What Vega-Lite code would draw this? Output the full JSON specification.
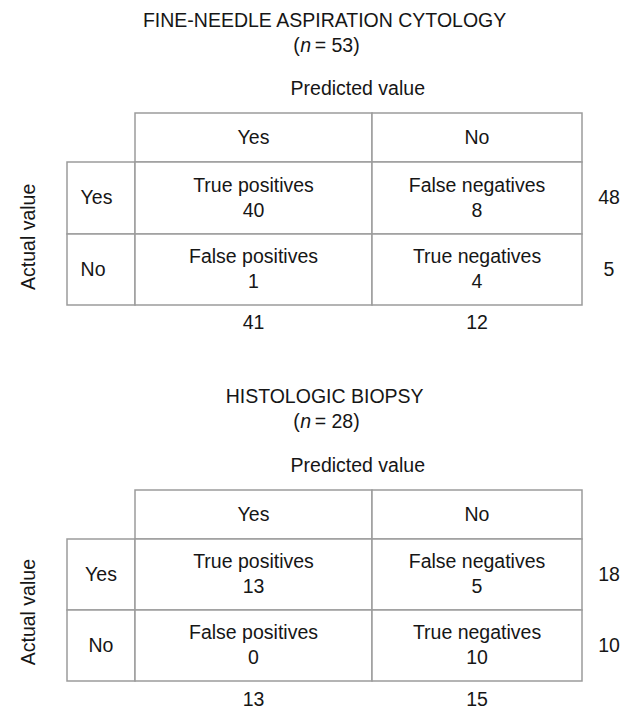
{
  "$schema": "https://vega.github.io/schema/vega-lite/v6.json",
  "width": 632,
  "height": 711,
  "autosize": {"type": "none"},
  "padding": 0,
  "background": "white",
  "config": {
    "view": {"stroke": null},
    "text": {"font": "Liberation Sans", "fontSize": 19.5, "color": "#161616", "baseline": "middle", "align": "center"}
  },
  "datasets": {
    "grid": [
      {"table": "FNAC", "c0": 1, "c1": 2, "r0": 4, "r1": 5},
      {"table": "FNAC", "c0": 2, "c1": 3, "r0": 4, "r1": 5},
      {"table": "FNAC", "c0": 0, "c1": 1, "r0": 5, "r1": 6},
      {"table": "FNAC", "c0": 0, "c1": 1, "r0": 6, "r1": 7},
      {"table": "FNAC", "c0": 1, "c1": 2, "r0": 5, "r1": 6},
      {"table": "FNAC", "c0": 2, "c1": 3, "r0": 5, "r1": 6},
      {"table": "FNAC", "c0": 1, "c1": 2, "r0": 6, "r1": 7},
      {"table": "FNAC", "c0": 2, "c1": 3, "r0": 6, "r1": 7},
      {"table": "HB", "c0": 1, "c1": 2, "r0": 13, "r1": 14},
      {"table": "HB", "c0": 2, "c1": 3, "r0": 13, "r1": 14},
      {"table": "HB", "c0": 0, "c1": 1, "r0": 14, "r1": 15},
      {"table": "HB", "c0": 0, "c1": 1, "r0": 15, "r1": 16},
      {"table": "HB", "c0": 1, "c1": 2, "r0": 14, "r1": 15},
      {"table": "HB", "c0": 2, "c1": 3, "r0": 14, "r1": 15},
      {"table": "HB", "c0": 1, "c1": 2, "r0": 15, "r1": 16},
      {"table": "HB", "c0": 2, "c1": 3, "r0": 15, "r1": 16}
    ],
    "body": [
      {"table": "FNAC", "col": 1.5, "row": 5.5, "label": "True positives", "count": 40},
      {"table": "FNAC", "col": 2.5, "row": 5.5, "label": "False negatives", "count": 8},
      {"table": "FNAC", "col": 1.5, "row": 6.5, "label": "False positives", "count": 1},
      {"table": "FNAC", "col": 2.5, "row": 6.5, "label": "True negatives", "count": 4},
      {"table": "HB", "col": 1.5, "row": 14.5, "label": "True positives", "count": 13},
      {"table": "HB", "col": 2.5, "row": 14.5, "label": "False negatives", "count": 5},
      {"table": "HB", "col": 1.5, "row": 15.5, "label": "False positives", "count": 0},
      {"table": "HB", "col": 2.5, "row": 15.5, "label": "True negatives", "count": 10}
    ],
    "labels": [
      {"table": "FNAC", "kind": "title", "text": "FINE-NEEDLE ASPIRATION CYTOLOGY", "col": 1.8, "row": 0.5},
      {"table": "FNAC", "kind": "n", "text": "= 53)", "col": 1.72, "row": 1.5},
      {"table": "FNAC", "kind": "center", "text": "Predicted value", "col": 1.94, "row": 3.5},
      {"table": "FNAC", "kind": "axis", "text": "Actual value", "col": -0.5, "row": 6.04},
      {"table": "FNAC", "kind": "center", "text": "Yes", "col": 1.5, "row": 4.5},
      {"table": "FNAC", "kind": "center", "text": "No", "col": 2.5, "row": 4.5},
      {"table": "FNAC", "kind": "rowlabel", "text": "Yes", "col": 0.2, "row": 5.5},
      {"table": "FNAC", "kind": "rowlabel", "text": "No", "col": 0.2, "row": 6.5},
      {"table": "FNAC", "kind": "center", "text": "48", "col": 3.5, "row": 5.5},
      {"table": "FNAC", "kind": "center", "text": "5", "col": 3.5, "row": 6.5},
      {"table": "FNAC", "kind": "center", "text": "41", "col": 1.5, "row": 7.5},
      {"table": "FNAC", "kind": "center", "text": "12", "col": 2.5, "row": 7.5},
      {"table": "HB", "kind": "title", "text": "HISTOLOGIC BIOPSY", "col": 1.8, "row": 9.5},
      {"table": "HB", "kind": "n", "text": "= 28)", "col": 1.72, "row": 10.5},
      {"table": "HB", "kind": "center", "text": "Predicted value", "col": 1.94, "row": 12.5},
      {"table": "HB", "kind": "axis", "text": "Actual value", "col": -0.5, "row": 15.03},
      {"table": "HB", "kind": "center", "text": "Yes", "col": 1.5, "row": 13.5},
      {"table": "HB", "kind": "center", "text": "No", "col": 2.5, "row": 13.5},
      {"table": "HB", "kind": "center", "text": "Yes", "col": 0.5, "row": 14.5},
      {"table": "HB", "kind": "center", "text": "No", "col": 0.5, "row": 15.5},
      {"table": "HB", "kind": "center", "text": "18", "col": 3.5, "row": 14.5},
      {"table": "HB", "kind": "center", "text": "10", "col": 3.5, "row": 15.5},
      {"table": "HB", "kind": "center", "text": "13", "col": 1.5, "row": 16.5},
      {"table": "HB", "kind": "center", "text": "15", "col": 2.5, "row": 16.5}
    ]
  },
  "encoding": {},
  "layer": [
    {
      "data": {"name": "grid"},
      "mark": {"type": "rect", "fill": "white", "stroke": "#9c9c9c", "strokeWidth": 1.5},
      "encoding": {
        "x": {"field": "c0", "type": "quantitative", "scale": {"domain": [-1, 0, 1, 2, 3, 4], "range": [-9, 67, 135, 372, 582, 636], "nice": false, "zero": false}, "axis": null},
        "x2": {"field": "c1"},
        "y": {"field": "r0", "type": "quantitative", "scale": {"domain": [0, 1, 2, 3, 4, 5, 6, 7, 8, 9, 10, 11, 12, 13, 14, 15, 16, 17], "range": [8, 34, 58, 65, 113, 162, 234, 305, 341, 385, 409, 434, 442, 490, 539, 610, 681, 719], "nice": false, "zero": false}, "axis": null},
        "y2": {"field": "r1"}
      }
    },
    {
      "data": {"name": "body"},
      "mark": {"type": "text", "dy": -12.5},
      "encoding": {
        "x": {"field": "col", "type": "quantitative"},
        "y": {"field": "row", "type": "quantitative"},
        "text": {"field": "label"}
      }
    },
    {
      "data": {"name": "body"},
      "mark": {"type": "text", "dy": 12.5},
      "encoding": {
        "x": {"field": "col", "type": "quantitative"},
        "y": {"field": "row", "type": "quantitative"},
        "text": {"field": "count", "type": "quantitative"}
      }
    },
    {
      "data": {"name": "labels"},
      "transform": [{"filter": "datum.kind === 'title' || datum.kind === 'center'"}],
      "mark": {"type": "text"},
      "encoding": {
        "x": {"field": "col", "type": "quantitative"},
        "y": {"field": "row", "type": "quantitative"},
        "text": {"field": "text"}
      }
    },
    {
      "data": {"name": "labels"},
      "transform": [{"filter": "datum.kind === 'rowlabel'"}],
      "mark": {"type": "text", "align": "left"},
      "encoding": {
        "x": {"field": "col", "type": "quantitative"},
        "y": {"field": "row", "type": "quantitative"},
        "text": {"field": "text"}
      }
    },
    {
      "data": {"name": "labels"},
      "transform": [{"filter": "datum.kind === 'axis'"}],
      "mark": {"type": "text", "angle": 270},
      "encoding": {
        "x": {"field": "col", "type": "quantitative"},
        "y": {"field": "row", "type": "quantitative"},
        "text": {"field": "text"}
      }
    },
    {
      "data": {"name": "labels"},
      "transform": [{"filter": "datum.kind === 'n'"}],
      "mark": {"type": "text", "fontStyle": "italic"},
      "encoding": {
        "x": {"field": "col", "type": "quantitative"},
        "y": {"field": "row", "type": "quantitative"},
        "text": {"value": "n"}
      }
    },
    {
      "data": {"name": "labels"},
      "transform": [{"filter": "datum.kind === 'n'"}],
      "mark": {"type": "text", "align": "right", "dx": -6},
      "encoding": {
        "x": {"field": "col", "type": "quantitative"},
        "y": {"field": "row", "type": "quantitative"},
        "text": {"value": "("}
      }
    },
    {
      "data": {"name": "labels"},
      "transform": [{"filter": "datum.kind === 'n'"}],
      "mark": {"type": "text", "align": "left", "dx": 9},
      "encoding": {
        "x": {"field": "col", "type": "quantitative"},
        "y": {"field": "row", "type": "quantitative"},
        "text": {"field": "text"}
      }
    }
  ]
}
